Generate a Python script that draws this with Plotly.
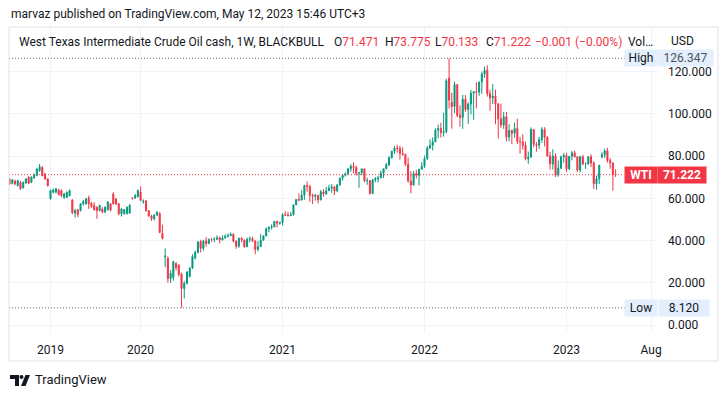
import plotly.graph_objects as go

# ---------------- data (weekly bars) ----------------
opens = [69.2, 67.1, 68.1, 66.0, 67.6, 65.0, 67.3, 70.0, 67.6, 69.7, 70.8, 73.1, 74.6, 71.5, 69.2,
         59.8, 62.9, 62.9, 64.0, 63.7, 60.5, 60.5, 61.3, 59.2, 53.0, 54.6, 54.2, 57.4, 57.4, 60.2,
         57.7, 56.6, 55.8, 54.2, 55.0, 53.5, 54.6, 57.4, 62.1, 59.7, 57.4, 52.7, 52.7, 52.7, 53.0,
         60.2, 60.2, 60.8,
         63.0, 58.4, 58.7, 54.2, 51.6, 50.3, 52.1, 52.8, 43.4, 32.3, 31.5, 22.0, 22.5, 29.1, 28.3,
         24.2, 17.3, 19.7, 23.0, 27.0, 31.8, 34.3, 39.6, 36.3, 39.8, 38.5, 40.6, 40.5, 40.6, 41.3,
         40.3, 41.2, 42.0, 42.3, 43.0, 39.8, 37.3, 41.1, 40.3, 37.1, 40.6, 40.9, 39.9, 35.8, 37.1,
         40.1, 42.2, 45.5, 46.3, 46.6, 49.1, 48.2,
         48.5, 52.3, 52.1, 51.8, 52.2, 56.9, 59.5, 59.2, 61.5, 66.1, 65.6, 61.4, 61.0, 61.5, 59.3,
         63.1, 62.1, 63.6, 64.9, 65.4, 63.6, 66.3, 69.6, 70.9, 71.6, 74.0, 75.2, 74.6, 71.8, 72.1,
         74.0, 68.3, 68.4, 62.3, 68.7, 69.3, 69.7, 72.0, 74.0, 75.9, 79.4, 82.3, 83.8, 83.6, 81.3,
         80.8, 76.1, 68.2, 66.3, 71.7, 70.9, 73.8,
         75.2, 78.9, 83.8, 85.1, 86.8, 92.3, 93.1, 91.1, 91.6, 117.0, 105.5, 103.5, 113.9, 99.3,
         98.3, 106.95, 102.1, 104.7, 109.8, 110.5, 110.3, 115.1, 118.9, 120.7, 109.6, 107.6, 108.4,
         104.8, 97.6, 94.7, 98.6, 89.0, 92.1, 90.8, 93.1, 86.9, 86.8, 85.1, 78.7, 79.5, 92.6, 85.6,
         85.1, 87.9, 92.6, 89.0, 80.1, 76.3, 80.0, 71.0, 74.3, 79.6,
         80.3, 74.0, 79.9, 81.6, 79.7, 73.4, 79.7, 76.3, 76.4, 79.7, 76.7, 66.9, 69.3, 79.6, 80.7,
         82.5, 77.9, 76.8, 71.471]
highs = [69.6, 69.2, 68.9, 68.8, 68.2, 67.9, 69.6, 70.6, 70.4, 71.7, 74.3, 76.3, 75.2, 72.0, 69.6,
         64.1, 64.6, 64.9, 64.6, 64.2, 62.6, 63.3, 64.2, 59.6, 55.0, 55.0, 57.8, 59.3, 60.2, 61.3,
         58.2, 58.2, 56.2, 57.0, 55.8, 56.2, 58.7, 57.8, 62.9, 60.2, 57.8, 55.5, 55.0, 56.2, 57.4,
         60.5, 62.1, 64.2,
         65.6, 59.5, 59.2, 54.5, 52.2, 52.5, 54.0, 53.5, 47.5, 36.3, 32.5, 26.0, 30.5, 29.8, 28.8,
         24.8, 20.8, 25.5, 27.5, 33.5, 35.3, 39.8, 40.4, 40.4, 41.6, 40.9, 41.3, 41.6, 42.5, 41.9,
         42.5, 43.0, 43.4, 43.8, 43.4, 40.0, 41.4, 41.6, 40.4, 41.4, 41.9, 41.8, 39.9, 39.8, 43.1,
         42.5, 46.3, 46.7, 47.7, 49.3, 49.4, 48.9,
         53.0, 53.9, 53.6, 53.6, 57.2, 59.6, 62.3, 63.8, 66.4, 68.0, 66.4, 62.2, 62.0, 61.5, 64.0,
         64.4, 65.5, 66.4, 66.7, 66.0, 66.8, 69.8, 71.1, 72.3, 74.2, 76.2, 77.0, 75.5, 72.3, 74.0,
         74.0, 69.8, 68.6, 69.2, 70.1, 70.5, 73.1, 74.1, 76.7, 79.8, 82.5, 84.8, 85.4, 84.9, 84.2,
         81.2, 79.3, 72.9, 72.9, 73.4, 74.0, 77.1,
         80.2, 84.8, 87.9, 88.8, 93.2, 94.9, 95.8, 100.5, 116.6, 126.347, 110.0, 115.4, 114.0, 104.0,
         109.0, 108.9, 105.5, 111.4, 110.8, 115.0, 115.2, 120.0, 122.5, 123.0, 111.4, 114.1, 111.5,
         105.0, 104.9, 101.0, 100.9, 95.1, 92.6, 95.9, 97.7, 89.1, 90.4, 86.8, 82.2, 93.6, 92.6,
         86.7, 89.1, 93.7, 93.7, 89.3, 82.0, 83.3, 81.4, 77.9, 80.3, 81.5,
         81.5, 80.0, 82.4, 82.6, 79.8, 80.1, 80.6, 77.0, 80.0, 80.9, 77.6, 70.8, 75.8, 81.8, 83.5,
         84.0, 79.1, 77.0, 73.775]
lows = [66.4, 66.6, 66.3, 65.6, 64.0, 64.6, 66.9, 66.7, 67.2, 69.2, 70.4, 72.6, 70.4, 68.8, 65.6,
        59.4, 62.4, 62.4, 61.4, 60.5, 59.7, 60.1, 60.9, 52.5, 50.9, 51.1, 53.8, 56.6, 57.0, 55.0,
        55.5, 54.2, 50.3, 53.8, 53.0, 53.0, 54.2, 53.8, 57.0, 56.8, 52.0, 51.4, 52.3, 52.4, 52.7,
        59.5, 59.8, 60.5,
        58.7, 57.5, 53.6, 51.3, 49.3, 49.5, 51.5, 43.5, 40.5, 27.4, 20.0, 20.0, 21.0, 25.8, 23.0,
        8.12, 12.6, 19.2, 22.5, 26.5, 31.0, 34.0, 34.4, 35.2, 37.1, 38.5, 39.4, 39.2, 40.3, 38.7,
        40.1, 40.9, 41.5, 42.1, 39.1, 36.1, 36.6, 39.2, 36.6, 36.9, 39.2, 39.2, 33.6, 34.9, 37.0,
        39.8, 42.0, 43.9, 45.2, 46.2, 46.2, 47.5,
        47.2, 51.8, 51.4, 51.6, 51.9, 56.8, 58.6, 58.9, 59.3, 63.1, 58.3, 57.3, 58.9, 57.6, 59.0,
        60.8, 61.6, 63.6, 62.6, 61.6, 62.9, 66.1, 68.4, 70.3, 71.0, 72.6, 71.8, 70.8, 65.0, 71.0,
        67.6, 66.4, 61.7, 62.0, 67.6, 67.6, 69.5, 69.6, 73.8, 75.3, 78.7, 81.0, 81.6, 78.3, 80.2,
        75.3, 67.4, 62.4, 66.1, 69.4, 66.1, 73.8,
        74.3, 78.1, 83.3, 82.7, 86.6, 88.4, 88.8, 89.2, 90.8, 102.6, 93.0, 100.4, 98.4, 93.9,
        92.9, 101.0, 95.3, 99.8, 97.2, 102.6, 108.6, 109.5, 117.0, 108.2, 101.5, 104.6, 95.1,
        88.3, 93.4, 92.9, 87.0, 87.0, 85.7, 88.7, 85.7, 81.2, 83.1, 78.0, 76.3, 79.4, 84.2,
        82.1, 83.4, 86.3, 84.6, 79.7, 73.6, 73.6, 70.1, 70.3, 73.9, 76.9,
        72.5, 73.4, 78.0, 79.3, 72.5, 72.3, 75.7, 73.8, 75.8, 74.8, 64.4, 64.1, 66.8, 79.0, 79.1,
        76.9, 74.0, 63.6, 70.133]
closes = [66.8, 68.7, 66.8, 68.4, 64.5, 67.6, 69.2, 67.1, 70.0, 71.2, 73.9, 75.0, 70.8, 69.2, 66.0,
          63.7, 64.0, 64.5, 61.8, 61.3, 62.1, 62.9, 63.7, 53.2, 54.2, 52.4, 57.4, 58.5, 59.7, 57.4,
          56.2, 54.6, 54.2, 56.6, 53.5, 55.8, 58.2, 54.4, 57.4, 57.4, 52.7, 55.0, 54.6, 55.8, 56.6,
          59.9, 61.3, 63.7,
          59.0, 58.7, 54.2, 51.6, 50.3, 52.1, 53.4, 43.9, 41.0, 32.7, 22.0, 24.5, 29.9, 27.2, 24.0,
          17.3, 19.7, 25.1, 26.9, 32.4, 34.4, 39.2, 36.3, 39.8, 38.5, 40.6, 40.5, 40.6, 41.3, 40.3,
          41.2, 42.0, 42.3, 43.0, 39.8, 37.3, 41.1, 40.3, 37.1, 40.6, 40.9, 39.9, 35.8, 37.1, 40.1,
          42.2, 45.5, 46.3, 46.6, 49.1, 48.2, 48.5,
          52.2, 52.0, 51.8, 52.2, 56.9, 59.5, 59.2, 61.5, 66.1, 65.6, 61.4, 61.0, 61.5, 59.3, 63.1,
          62.1, 63.6, 64.9, 65.4, 63.6, 66.3, 69.6, 70.9, 71.6, 74.0, 75.2, 74.6, 71.8, 72.1, 74.0,
          68.3, 68.4, 62.3, 68.7, 69.3, 69.7, 72.0, 74.0, 75.9, 79.4, 82.3, 83.8, 83.6, 81.3, 80.8,
          76.1, 68.2, 66.3, 71.7, 70.9, 73.8, 75.2,
          78.9, 83.8, 85.1, 86.8, 92.3, 93.1, 91.1, 91.6, 115.7, 106.5, 103.5, 113.9, 99.3, 98.3,
          106.95, 102.1, 104.7, 109.8, 110.5, 110.3, 115.1, 118.9, 120.7, 109.6, 107.6, 108.4, 104.8,
          97.6, 94.7, 98.6, 89.0, 92.1, 90.8, 93.1, 86.9, 86.8, 85.1, 78.7, 79.5, 92.6, 85.6, 85.1,
          87.9, 92.6, 89.0, 80.1, 76.3, 80.0, 71.0, 74.3, 79.6, 80.3,
          74.0, 79.9, 81.6, 79.7, 73.4, 79.7, 76.3, 76.4, 79.7, 76.7, 66.9, 69.3, 75.7, 80.7, 82.5,
          77.9, 76.8, 71.3, 71.222]

tick_bars = [15, 48, 100, 152, 204, 235]
tick_labels = ["2019", "2020", "2021", "2022", "2023", "Aug"]
price_ticks = [0, 20, 40, 60, 80, 100, 120]

# ---------------- styling ----------------
GREEN = "#089981"
RED = "#F23645"
TXT = "#131722"
GRID = "#f0f3fa"
FONT = "Roboto, Noto Sans, sans-serif"

OFF = 8                       # page body margin added by the browser
W, H = 728 - OFF, 397 - OFF
PL, PR, PT, PB = 9, 658, 27, 333          # plot area in page pixels
PX_PER_BAR = 2.73
X0 = -0.2
X1 = X0 + (PR - PL) / PX_PER_BAR
Y_TOP = (325 - PT) / 2.111
Y_BOT = (325 - PB) / 2.111


def px(xp):
    return (xp - PL) / (PR - PL)


def py(yp):
    return (PB - yp) / (PB - PT)


bars = list(range(len(opens)))
last_price = closes[-1]
high_price = max(highs)
low_price = min(lows)

fig = go.Figure()
fig.add_trace(go.Candlestick(
    x=bars, open=opens, high=highs, low=lows, close=closes,
    increasing=dict(line=dict(color=GREEN, width=1), fillcolor=GREEN),
    decreasing=dict(line=dict(color=RED, width=1), fillcolor=RED),
    whiskerwidth=0, showlegend=False, hoverinfo="skip",
))

DOT = "1px,2px"
shapes = [
    dict(type="line", xref="paper", yref="y", x0=0, x1=px(625), y0=high_price, y1=high_price,
         line=dict(color="#6a6d78", width=1, dash=DOT), layer="above"),
    dict(type="line", xref="paper", yref="y", x0=0, x1=px(625), y0=low_price, y1=low_price,
         line=dict(color="#6a6d78", width=1, dash=DOT), layer="above"),
    dict(type="line", xref="paper", yref="y", x0=0, x1=px(624), y0=last_price, y1=last_price,
         line=dict(color=RED, width=1, dash=DOT), layer="above"),
    # outer frame
    dict(type="rect", xref="paper", yref="paper", x0=px(9), x1=px(718), y0=py(361), y1=py(27),
         line=dict(color="#e0e3eb", width=1), layer="above"),
    # TradingView logo (approximation)
    dict(type="path", xref="paper", yref="paper",
         path=f"M {px(10)},{py(375)} L {px(19)},{py(375)} L {px(19)},{py(386)} L {px(15)},{py(386)} "
              f"L {px(15)},{py(379)} L {px(10)},{py(379)} Z",
         fillcolor=TXT, line=dict(width=0)),
    dict(type="circle", xref="paper", yref="paper", x0=px(19.5), x1=px(23.5), y0=py(379), y1=py(375),
         fillcolor=TXT, line=dict(width=0)),
    dict(type="path", xref="paper", yref="paper",
         path=f"M {px(21)},{py(386)} L {px(25.5)},{py(375)} L {px(30)},{py(375)} L {px(25.5)},{py(386)} Z",
         fillcolor=TXT, line=dict(width=0)),
]

ann = []


def label(text, xp, yp, size=12, color=TXT, anchor="left"):
    ann.append(dict(text=text, xref="paper", yref="paper", x=px(xp), y=py(yp),
                    xanchor=anchor, yanchor="middle", showarrow=False,
                    font=dict(family=FONT, size=size, color=color)))


label("marvaz published on TradingView.com, May 12, 2023 15:46 UTC+3", 9, 14)
label("West Texas Intermediate Crude Oil cash, 1W, BLACKBULL", 17, 42)
label(f'O<span style="color:{RED}">{opens[-1]:.3f}</span>', 332, 42)
label(f'H<span style="color:{RED}">{highs[-1]:.3f}</span>', 383, 42)
label(f'L<span style="color:{RED}">{lows[-1]:.3f}</span>', 433, 42)
label(f'C<span style="color:{RED}">{closes[-1]:.3f}</span>', 484, 42)
label("\u22120.001 (\u22120.00%)", 533, 42, color=RED)
label("Vol\u2026", 626, 42)
label("USD", 669, 41)
label("TradingView", 33, 380, size=13)


def box(text, xc, yval, w, bg, color, bold=False):
    ann.append(dict(text=f"<b>{text}</b>" if bold else text, xref="paper", yref="y",
                    x=px(xc), y=yval, xanchor="center", yanchor="middle", showarrow=False,
                    width=w, height=16, bgcolor=bg, borderpad=0,
                    font=dict(family=FONT, size=12, color=color)))


box("High", 641, high_price, 32, "#e3effd", TXT)
box(f"{high_price:.3f}", 686, high_price, 55, "#e3effd", "#50535e")
box("Low", 641, low_price, 32, "#e3effd", TXT)
box(f"{low_price:.3f}", 684, low_price, 50, "#e3effd", TXT)
box("WTI", 640.5, last_price, 32, RED, "white", bold=True)
box(f"{last_price:.3f}", 682, last_price, 48, RED, "white", bold=True)

fig.update_layout(
    width=W, height=H, paper_bgcolor="white", plot_bgcolor="white",
    margin=dict(l=PL - OFF, r=W - (PR - OFF), t=PT - OFF, b=H - (PB - OFF)),
    boxgap=0.45,
    shapes=shapes, annotations=ann,
    xaxis=dict(range=[X0, X1], tickvals=tick_bars, ticktext=tick_labels, showgrid=True,
               gridcolor=GRID, zeroline=False, showline=False, ticks="", rangeslider=dict(visible=False),
               tickfont=dict(family=FONT, size=12, color=TXT), ticklabelstandoff=8, fixedrange=True),
    yaxis=dict(range=[Y_BOT, Y_TOP], side="right", tickvals=price_ticks,
               ticktext=[f"{v:.3f}" for v in price_ticks], showgrid=True, gridcolor=GRID,
               zeroline=False, showline=False, ticks="", ticklabelstandoff=9,
               tickfont=dict(family=FONT, size=12, color=TXT), fixedrange=True),
)

fig.write_html("out.html")
